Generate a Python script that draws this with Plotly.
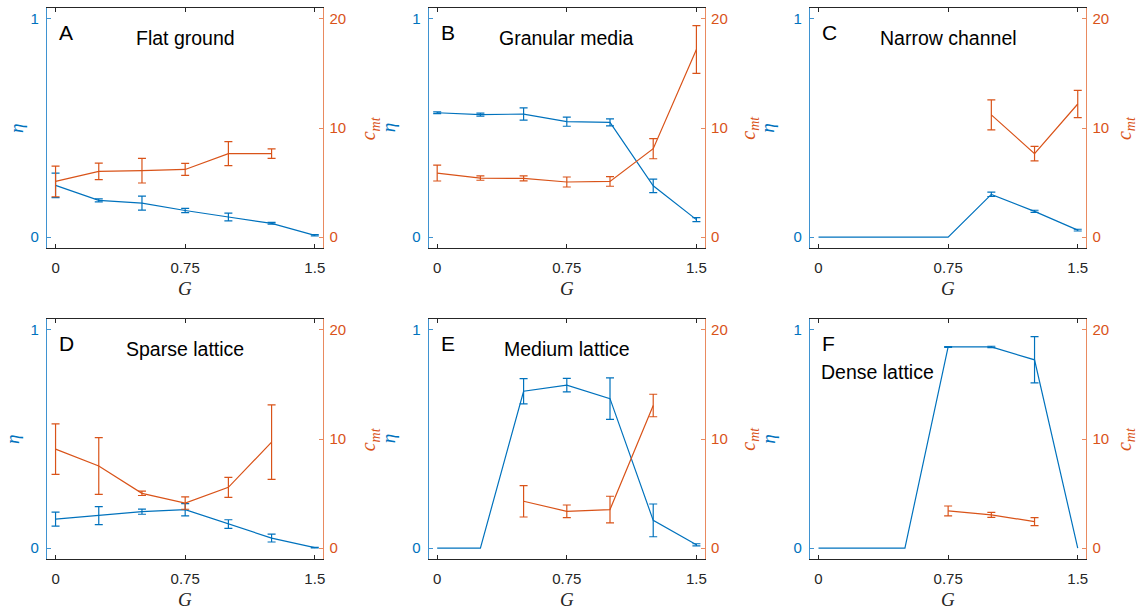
import plotly.graph_objects as go

W, H = 1138, 610

G_vals = [0, 0.25, 0.5, 0.75, 1.0, 1.25, 1.5]
panel_letters = ["A", "B", "C", "D", "E", "F"]
panel_titles = ["Flat ground", "Granular media", "Narrow channel",
                "Sparse lattice", "Medium lattice", "Dense lattice"]

A_eta = [0.237, 0.168, 0.156, 0.122, 0.092, 0.063, 0.008]
A_eta_err = [0.056, 0.007, 0.032, 0.010, 0.018, 0.004, 0.003]
A_c = [5.1, 6.02, 6.09, 6.2, 7.65, 7.65, None]
A_c_err = [1.4, 0.76, 1.13, 0.55, 1.1, 0.43, None]

B_eta = [0.570, 0.561, 0.564, 0.529, 0.526, 0.235, 0.080]
B_eta_err = [0.004, 0.007, 0.028, 0.021, 0.016, 0.031, 0.009]
B_c = [5.87, 5.41, 5.38, 5.05, 5.10, 8.10, 17.19]
B_c_err = [0.73, 0.20, 0.23, 0.46, 0.44, 0.92, 2.19]

C_eta = [0, 0, 0, 0, 0.196, 0.118, 0.032]
C_eta_err = [None, None, None, None, 0.010, 0.005, 0.004]
C_c = [None, None, None, None, 11.2, 7.65, 12.2]
C_c_err = [None, None, None, None, 1.38, 0.67, 1.25]

D_eta = [0.133, 0.149, 0.167, 0.176, 0.110, 0.046, 0.002]
D_eta_err = [0.032, 0.041, 0.012, 0.028, 0.020, 0.018, 0.001]
D_c = [9.07, 7.53, 5.02, 4.13, 5.57, 9.71, None]
D_c_err = [2.31, 2.60, 0.20, 0.57, 0.92, 3.41, None]

E_eta = [0, 0, 0.719, 0.747, 0.685, 0.127, 0.015]
E_eta_err = [None, None, 0.058, 0.031, 0.095, 0.075, 0.005]
E_c = [None, None, 4.29, 3.37, 3.53, 13.07, None]
E_c_err = [None, None, 1.44, 0.58, 1.22, 1.03, None]

F_eta = [0, 0, 0, 0.922, 0.922, 0.863, 0]
F_eta_err = [None, None, None, 0.002, 0.003, 0.106, None]
F_c = [None, None, None, 3.41, 3.04, 2.43, None]
F_c_err = [None, None, None, 0.45, 0.23, 0.37, None]

eta_series = [A_eta, B_eta, C_eta, D_eta, E_eta, F_eta]
eta_errs = [A_eta_err, B_eta_err, C_eta_err, D_eta_err, E_eta_err, F_eta_err]
c_series = [A_c, B_c, C_c, D_c, E_c, F_c]
c_errs = [A_c_err, B_c_err, C_c_err, D_c_err, E_c_err, F_c_err]

x_ticks = [0, 0.75, 1.5]
x_ticktext = ["0", "0.75", "1.5"]
eta_ticks = [0, 1]
c_ticks = [0, 10, 20]

BLUE = "#0072BD"
ORANGE = "#D95319"
BLUE_AX = "#3f93d1"
ORANGE_AX = "#e98a60"
DARK = "#262626"
SANS = "Liberation Sans, Arial, sans-serif"
SERIF = "Liberation Serif, Times New Roman, serif"

# pixel geometry
col_left = [47, 429.3, 811.3]
col_w = 277
row_top = [8, 319]
row_h = 240
eta_label_x = [[16, 389, 768], [12, 389, 769]]
c_label_x = [370, 750, 1127]

fig = go.Figure()
layout = dict(
    width=W, height=H, margin=dict(l=0, r=0, t=0, b=0),
    paper_bgcolor="white", plot_bgcolor="white", showlegend=False,
)
annotations = []


def with_err(xs, ys, es):
    keep = [k for k in range(len(xs)) if es[k] is not None and ys[k] is not None]
    return [xs[k] for k in keep], [ys[k] for k in keep], [es[k] for k in keep]


for i in range(6):
    r, c = divmod(i, 3)
    xid = i + 1
    yl = 2 * i + 1
    yr = 2 * i + 2
    xname = "x" if xid == 1 else f"x{xid}"
    ylname = "y" if yl == 1 else f"y{yl}"
    yrname = f"y{yr}"
    x0 = col_left[c] / W
    x1 = (col_left[c] + col_w) / W
    y0 = 1 - (row_top[r] + row_h) / H
    y1 = 1 - row_top[r] / H

    layout["xaxis" if xid == 1 else f"xaxis{xid}"] = dict(
        domain=[x0, x1], anchor=ylname, range=[-0.05, 1.55],
        tickvals=x_ticks, ticktext=x_ticktext, ticks="inside", ticklen=4,
        tickcolor=DARK, showline=True, linecolor=DARK, linewidth=1,
        mirror="ticks", showgrid=False, zeroline=False,
        tickfont=dict(family=SANS, size=15, color=DARK),
        ticklabelstandoff=6,
    )
    layout["yaxis" if yl == 1 else f"yaxis{yl}"] = dict(
        domain=[y0, y1], anchor=xname, range=[-0.05, 1.05], side="left",
        tickvals=eta_ticks, ticks="inside", ticklen=4, tickcolor=BLUE_AX,
        showline=True, linecolor=BLUE_AX, linewidth=1,
        showgrid=False, zeroline=False,
        tickfont=dict(family=SANS, size=15, color=BLUE),
        ticklabelstandoff=4,
    )
    layout[f"yaxis{yr}"] = dict(
        overlaying=ylname, anchor=xname, range=[-1, 21], side="right",
        tickvals=c_ticks, ticks="inside", ticklen=4, tickcolor=ORANGE_AX,
        showline=True, linecolor=ORANGE_AX, linewidth=1,
        showgrid=False, zeroline=False,
        tickfont=dict(family=SANS, size=15, color=ORANGE),
        ticklabelstandoff=2,
    )

    for ys, es, yname, col in ((eta_series[i], eta_errs[i], ylname, BLUE),
                               (c_series[i], c_errs[i], yrname, ORANGE)):
        fig.add_trace(go.Scatter(
            x=G_vals, y=ys, xaxis=xname, yaxis=yname, mode="lines",
            line=dict(color=col, width=1.2), cliponaxis=False,
        ))
        ex, ey, ee = with_err(G_vals, ys, es)
        fig.add_trace(go.Scatter(
            x=ex, y=ey, xaxis=xname, yaxis=yname, mode="markers",
            marker=dict(size=1, color=col, opacity=0),
            error_y=dict(type="data", array=ee, visible=True,
                         color=col, thickness=1.2, width=4),
            cliponaxis=False,
        ))

    # panel letter
    annotations.append(dict(
        xref=f"{xname} domain", yref=f"{ylname} domain",
        x=10 / col_w, y=0.896, xanchor="left", yanchor="middle",
        text=panel_letters[i], showarrow=False,
        font=dict(family=SANS, size=21, color="black"),
    ))
    # panel title
    if i == 5:
        annotations.append(dict(
            xref=f"{xname} domain", yref=f"{ylname} domain",
            x=9 / col_w, y=0.78, xanchor="left", yanchor="middle",
            text=panel_titles[i], showarrow=False,
            font=dict(family=SANS, size=19.5, color="black"),
        ))
    else:
        annotations.append(dict(
            xref=f"{xname} domain", yref=f"{ylname} domain",
            x=0.5, y=0.875, xanchor="center", yanchor="middle",
            text=panel_titles[i], showarrow=False,
            font=dict(family=SANS, size=19.5, color="black"),
        ))
    # axis titles
    annotations.append(dict(
        xref="paper", yref=f"{ylname} domain",
        x=eta_label_x[r][c] / W, y=0.5, xanchor="center", yanchor="middle",
        text="<i>η</i>", textangle=-90, showarrow=False,
        font=dict(family=SERIF, size=19, color=BLUE),
    ))
    annotations.append(dict(
        xref="paper", yref=f"{ylname} domain",
        x=c_label_x[c] / W, y=0.5, xanchor="center", yanchor="middle",
        text="<i>c</i><sub><i>mt</i></sub>", textangle=-90, showarrow=False,
        font=dict(family=SERIF, size=20, color=ORANGE),
    ))
    annotations.append(dict(
        xref=xname, yref="paper",
        x=0.75, y=1 - (row_top[r] + row_h + 40) / H, xanchor="center", yanchor="middle",
        text="<i>G</i>", showarrow=False,
        font=dict(family=SERIF, size=19, color=DARK),
    ))

layout["annotations"] = annotations
fig.update_layout(**layout)
fig.write_html("out.html")
